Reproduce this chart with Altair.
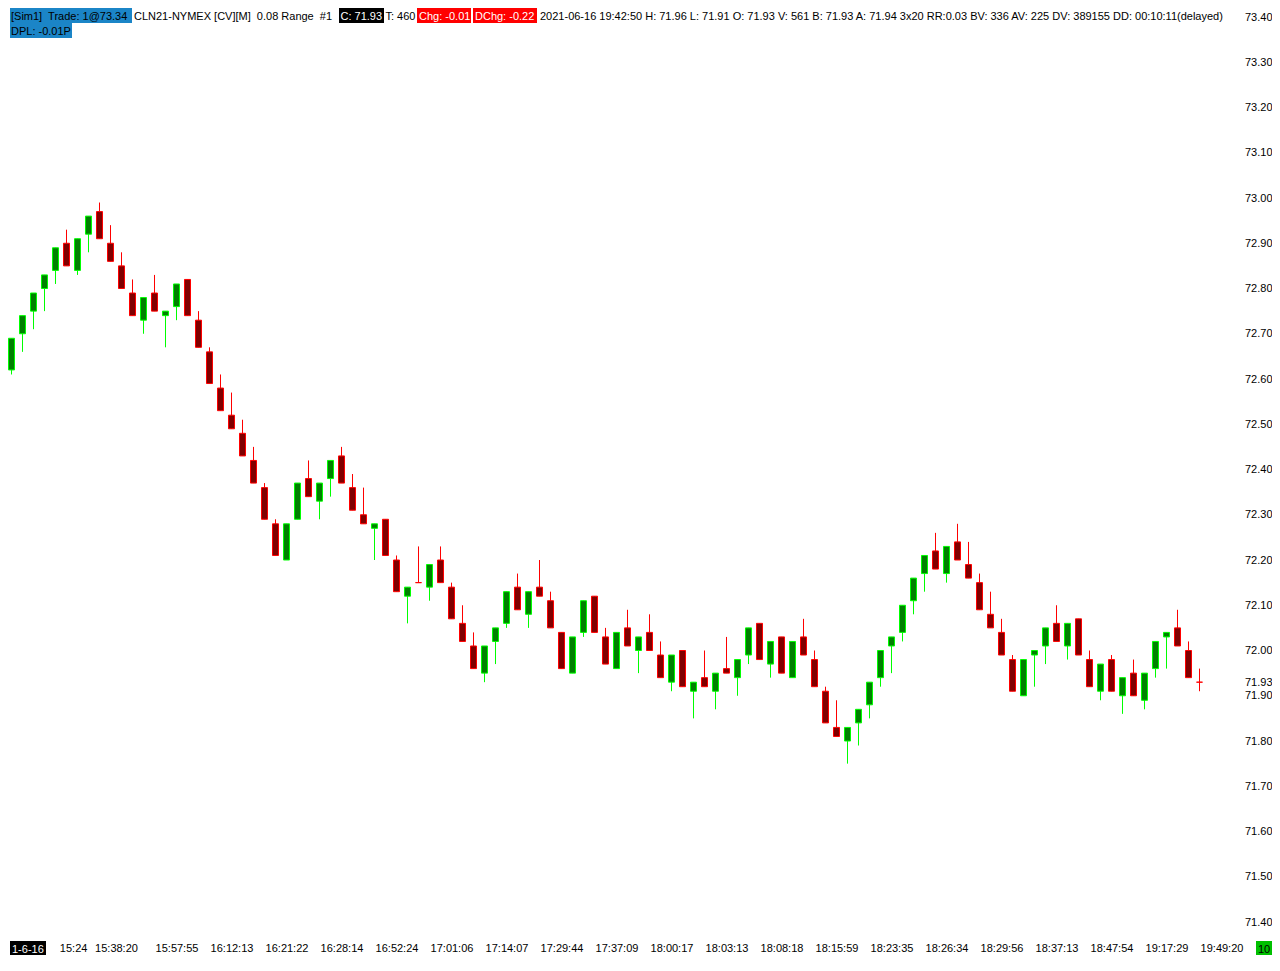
import altair as alt
import pandas as pd

# ---------------- data ----------------
opens = [72.62, 72.70, 72.75, 72.80, 72.84, 72.90, 72.84, 72.92, 72.97, 72.90,
         72.85, 72.79, 72.73, 72.79, 72.74, 72.76, 72.82, 72.73, 72.66, 72.58,
         72.52, 72.48, 72.42, 72.36, 72.28, 72.20, 72.29, 72.38, 72.33, 72.38,
         72.43, 72.36, 72.30, 72.27, 72.29, 72.20, 72.12, 72.15, 72.14, 72.20,
         72.14, 72.06, 72.01, 71.95, 72.02, 72.06, 72.14, 72.08, 72.14, 72.11,
         72.04, 71.95, 72.04, 72.12, 72.03, 71.96, 72.05, 72.00, 72.04, 71.99,
         71.93, 72.00, 71.91, 71.94, 71.91, 71.96, 71.94, 71.99, 72.06, 71.97,
         72.03, 71.94, 72.03, 71.98, 71.91, 71.83, 71.80, 71.84, 71.88, 71.94,
         72.01, 72.04, 72.11, 72.17, 72.22, 72.17, 72.24, 72.19, 72.15, 72.08,
         72.04, 71.98, 71.90, 71.99, 72.01, 72.06, 72.01, 72.07, 71.98, 71.91,
         71.98, 71.90, 71.95, 71.89, 71.96, 72.03, 72.05, 72.00, 71.93]
highs = [72.69, 72.74, 72.79, 72.83, 72.89, 72.93, 72.91, 72.96, 72.99, 72.94,
         72.88, 72.82, 72.78, 72.83, 72.75, 72.81, 72.82, 72.75, 72.67, 72.61,
         72.57, 72.51, 72.45, 72.37, 72.29, 72.28, 72.37, 72.42, 72.37, 72.42,
         72.45, 72.39, 72.36, 72.28, 72.29, 72.21, 72.14, 72.23, 72.19, 72.23,
         72.15, 72.10, 72.04, 72.01, 72.05, 72.13, 72.17, 72.13, 72.20, 72.13,
         72.04, 72.03, 72.11, 72.12, 72.05, 72.04, 72.09, 72.03, 72.08, 72.02,
         71.99, 72.00, 71.93, 72.00, 71.95, 72.03, 71.98, 72.05, 72.06, 72.02,
         72.03, 72.02, 72.07, 72.00, 71.92, 71.89, 71.83, 71.87, 71.93, 72.00,
         72.03, 72.10, 72.16, 72.21, 72.26, 72.23, 72.28, 72.24, 72.17, 72.13,
         72.07, 71.99, 71.98, 72.00, 72.05, 72.10, 72.06, 72.07, 72.00, 71.97,
         71.99, 71.94, 71.98, 71.95, 72.02, 72.04, 72.09, 72.02, 71.96]
lows = [72.61, 72.66, 72.71, 72.75, 72.81, 72.85, 72.83, 72.88, 72.91, 72.86,
        72.80, 72.74, 72.70, 72.75, 72.67, 72.73, 72.74, 72.67, 72.59, 72.53,
        72.49, 72.43, 72.37, 72.29, 72.21, 72.20, 72.29, 72.34, 72.29, 72.34,
        72.37, 72.31, 72.28, 72.20, 72.21, 72.13, 72.06, 72.15, 72.11, 72.15,
        72.07, 72.02, 71.96, 71.93, 71.97, 72.05, 72.09, 72.05, 72.12, 72.05,
        71.96, 71.95, 72.03, 72.04, 71.97, 71.96, 72.01, 71.95, 72.00, 71.94,
        71.91, 71.92, 71.85, 71.92, 71.87, 71.95, 71.90, 71.97, 71.98, 71.94,
        71.95, 71.94, 71.99, 71.92, 71.84, 71.81, 71.75, 71.79, 71.85, 71.92,
        71.95, 72.02, 72.08, 72.13, 72.18, 72.15, 72.20, 72.16, 72.09, 72.05,
        71.99, 71.91, 71.90, 71.92, 71.97, 72.02, 71.98, 71.99, 71.92, 71.89,
        71.91, 71.86, 71.90, 71.87, 71.94, 71.96, 72.01, 71.94, 71.91]
closes = [72.69, 72.74, 72.79, 72.83, 72.89, 72.85, 72.91, 72.96, 72.91, 72.86,
          72.80, 72.74, 72.78, 72.75, 72.75, 72.81, 72.74, 72.67, 72.59, 72.53,
          72.49, 72.43, 72.37, 72.29, 72.21, 72.28, 72.37, 72.34, 72.37, 72.42,
          72.37, 72.31, 72.28, 72.28, 72.21, 72.13, 72.14, 72.15, 72.19, 72.15,
          72.07, 72.02, 71.96, 72.01, 72.05, 72.13, 72.09, 72.13, 72.12, 72.05,
          71.96, 72.03, 72.11, 72.04, 71.97, 72.04, 72.01, 72.03, 72.00, 71.94,
          71.99, 71.92, 71.93, 71.92, 71.95, 71.95, 71.98, 72.05, 71.98, 72.02,
          71.95, 72.02, 71.99, 71.92, 71.84, 71.81, 71.83, 71.87, 71.93, 72.00,
          72.03, 72.10, 72.16, 72.21, 72.18, 72.23, 72.20, 72.16, 72.09, 72.05,
          71.99, 71.91, 71.98, 72.00, 72.05, 72.02, 72.06, 71.99, 71.92, 71.97,
          71.91, 71.94, 71.90, 71.95, 72.02, 72.04, 72.01, 71.94, 71.93]

time_tick_pos = [5.6, 9.5, 15, 20, 25, 30, 35, 40, 45, 50, 55, 60, 65, 70, 75,
                 80, 85, 90, 95, 100, 105, 110]
time_tick_labels = ["15:24", "15:38:20", "15:57:55", "16:12:13", "16:21:22",
                    "16:28:14", "16:52:24", "17:01:06", "17:14:07", "17:29:44",
                    "17:37:09", "18:00:17", "18:03:13", "18:08:18", "18:15:59",
                    "18:23:35", "18:26:34", "18:29:56", "18:37:13", "18:47:54",
                    "19:17:29", "19:49:20"]
price_ticks = [71.40, 71.50, 71.60, 71.70, 71.80, 71.90, 71.93, 72.00, 72.10,
               72.20, 72.30, 72.40, 72.50, 72.60, 72.70, 72.80, 72.90, 73.00,
               73.10, 73.20, 73.30, 73.40]

NB = "\u00a0"
header_texts = ["[Sim1]" + NB + " Trade: 1@73.34",
                "CLN21-NYMEX [CV][M]" + NB + " 0.08 Range" + NB + " #1",
                "C: 71.93", "T: 460", "Chg: -0.01", "DChg: -0.22",
                "2021-06-16 19:42:50 H: 71.96 L: 71.91 O: 71.93 V: 561 B: 71.93 "
                "A: 71.94 3x20 RR:0.03 BV: 336 AV: 225 DV: 389155 DD: 00:10:11(delayed)",
                "DPL: -0.01P"]
date_label = "1-6-16"
count_label = "10"

# ---------------- table ----------------
df = pd.DataFrame({
    "idx": list(range(len(opens))),
    "open": opens, "high": highs, "low": lows, "close": closes,
})
df["dir"] = ["up" if c > o else "down" for o, c in zip(opens, closes)]

# ---------------- layout / style ----------------
FONT = "Liberation Sans"
W, H = 1226, 925
PX_PER_BAR = 11.0
x0 = -1.5 / PX_PER_BAR
x_dom = [x0, x0 + W / PX_PER_BAR]
PX_PER_PRICE = 452.5
top_price = 73.40 + 9 / PX_PER_PRICE
y_dom = [73.40 - (H - 9) / PX_PER_PRICE, top_price]

x_scale = alt.Scale(domain=x_dom, nice=False, zero=False, padding=0)
y_scale = alt.Scale(domain=y_dom, nice=False, zero=False, padding=0)

label_expr = "[" + ",".join(f"'{l}'" for l in time_tick_labels) + "][indexof([" + \
    ",".join(str(p) for p in time_tick_pos) + "], datum.value)]"

x_axis = alt.Axis(values=time_tick_pos, labelExpr=label_expr, ticks=False,
                  domain=False, grid=False, title=None, labelFont=FONT,
                  labelFontSize=11, labelColor="#000000", labelPadding=9,
                  labelOverlap=False, labelFlush=False, labelBound=False)
y_axis = alt.Axis(values=price_ticks, format=".2f", orient="right", ticks=False,
                  domain=False, grid=False, title=None, labelFont=FONT,
                  labelFontSize=11, labelColor="#000000", labelAlign="right",
                  labelPadding=36, labelOverlap=False, labelFlush=False,
                  labelBound=False)

dir_dom = ["up", "down"]
base = alt.Chart(df)

wicks = base.mark_rule(strokeWidth=1).encode(
    x=alt.X("idx:Q", scale=x_scale, axis=x_axis),
    y=alt.Y("low:Q", scale=y_scale, axis=y_axis),
    y2="high:Q",
    color=alt.Color("dir:N", scale=alt.Scale(domain=dir_dom, range=["#00ff00", "#ff0000"]),
                    legend=None),
)

bodies = base.mark_bar(size=6, strokeWidth=1).encode(
    x=alt.X("idx:Q", scale=x_scale),
    y=alt.Y("open:Q", scale=y_scale),
    y2="close:Q",
    fill=alt.Fill("dir:N", scale=alt.Scale(domain=dir_dom, range=["#008000", "#800000"]),
                  legend=None),
    stroke=alt.Stroke("dir:N", scale=alt.Scale(domain=dir_dom, range=["#00ff00", "#ff0000"]),
                      legend=None),
)

one = alt.Data(values=[{"k": 1}])


def box(x1, x2, y1, y2, color):
    return alt.Chart(one).mark_rect(color=color).encode(
        x=alt.value(x1), x2=alt.value(x2), y=alt.value(y1), y2=alt.value(y2))


def label(txt, x, y, color="#000000"):
    return alt.Chart(one).mark_text(text=txt, align="left", baseline="alphabetic",
                                    font=FONT, fontSize=11, color=color).encode(
        x=alt.value(x), y=alt.value(y))


BLUE = "#1b85c7"
RED = "#ff0000"
LB = H + 20  # baseline of the bottom-strip texts
ann = [
    box(0, 122, 0, 15, BLUE), label(header_texts[0], 1, 11.5),
    box(0, 62, 15, 30, BLUE), label(header_texts[7], 1, 26.5),
    label(header_texts[1], 124, 11.5),
    box(329, 374, 0, 15, "#000000"), label(header_texts[2], 330.5, 11.5, "#ffffff"),
    label(header_texts[3], 375.5, 11.5),
    box(407, 461, 0, 15, RED), label(header_texts[4], 409, 11.5, "#ffffff"),
    box(463, 527, 0, 15, RED), label(header_texts[5], 465, 11.5, "#ffffff"),
    label(header_texts[6], 530, 11.5),
    box(0, 36, H + 8, H + 22, "#000000"), label(date_label, 2, LB, "#ffffff"),
    box(1246, 1262, H + 8, H + 22, "#00c000"), label(count_label, 1248, LB),
]

chart = alt.layer(wicks, bodies, *ann).properties(
    width=W, height=H, padding=0, background="#ffffff"
).configure_view(stroke=None)

chart.save("out.html", embed_options={"renderer": "svg", "actions": False})
